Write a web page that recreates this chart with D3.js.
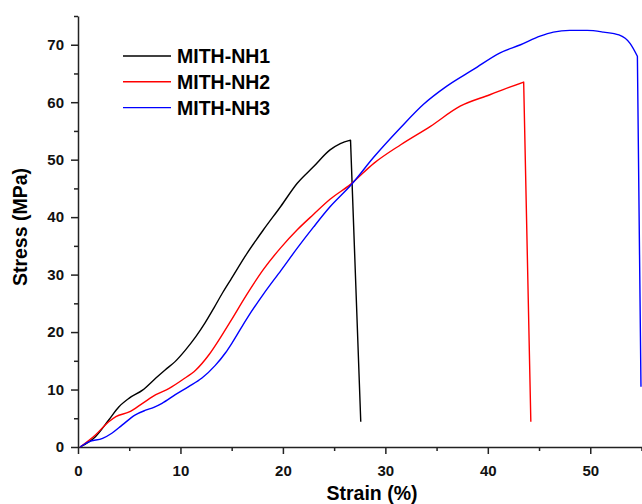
<!DOCTYPE html>
<html>
<head>
<meta charset="utf-8">
<script src="https://cdn.jsdelivr.net/npm/d3@7"></script>
<style>
  body { margin: 0; background: #fff; }
  svg { display: block; font-family: "Liberation Sans", Arial, sans-serif; }
  .axis text { font-size: 15px; font-weight: bold; fill: #111; }
  .axis path, .axis line { stroke: #222; stroke-width: 1.5; }
</style>
</head>
<body>
<div class="chart"></div>
<script>
// DATA ------------------------------
let seriesNames = ["MITH-NH1", "MITH-NH2", "MITH-NH3"];
let seriesColors = ["#000000", "#ff0000", "#0000ff"];

let nh1Strain = [0.2, 1.7, 3.0, 4.0, 5.0, 6.3, 7.6, 8.5, 9.5, 10.5, 11.5, 12.4, 13.3, 14.1, 14.9, 16.5, 18.1, 19.8, 21.4, 23.0, 24.6, 25.6, 26.6, 27.6];
let nh1Stress = [0, 1.8, 4.7, 7.0, 8.5, 9.9, 12.0, 13.4, 14.9, 16.9, 19.2, 21.6, 24.3, 26.8, 29.1, 33.7, 37.8, 41.9, 45.9, 48.8, 51.7, 52.8, 53.4, 4.4];

let nh2Strain = [0.2, 1.7, 3.0, 3.7, 5.0, 6.3, 7.6, 8.9, 10.2, 11.5, 12.8, 14.1, 14.9, 16.5, 18.1, 19.8, 21.4, 23.0, 24.6, 26.6, 28.9, 31.5, 34.4, 37.3, 40.2, 41.5, 43.5, 44.2];
let nh2Stress = [0, 2.1, 4.4, 5.3, 6.1, 7.6, 9.1, 10.2, 11.7, 13.4, 16.1, 19.6, 21.9, 26.6, 30.9, 34.7, 37.8, 40.5, 43.1, 45.7, 49.4, 52.6, 55.8, 59.3, 61.3, 62.2, 63.5, 4.4];

let nh3Strain = [0.2, 1.05, 2.4, 3.3, 4.3, 5.6, 6.6, 7.4, 8.2, 9.5, 10.8, 12.1, 13.4, 14.4, 15.0, 16.5, 18.1, 19.8, 21.4, 23.0, 24.6, 26.6, 28.9, 31.5, 33.7, 36.0, 38.6, 41.2, 43.2, 45.1, 46.4, 48.0, 49.7, 51.3, 52.8, 53.9, 54.6, 54.95];
let nh3Stress = [0, 0.9, 1.5, 2.4, 3.8, 5.6, 6.4, 6.9, 7.6, 9.1, 10.5, 12.0, 14.2, 16.4, 18.0, 22.4, 26.6, 30.7, 34.6, 38.3, 41.8, 45.5, 50.5, 55.6, 59.6, 62.8, 65.7, 68.6, 70.0, 71.5, 72.2, 72.5, 72.5, 72.2, 71.7, 70.2, 68.0, 10.5];

let xMajor = [0, 10, 20, 30, 40, 50];
let xMinor = [5, 15, 25, 35, 45, 55];
let yMajor = [0, 10, 20, 30, 40, 50, 60, 70];
let yMinor = [5, 15, 25, 35, 45, 55, 65, 75];

// CHART INIT ------------------------------
let W = 642, H = 504;
let x0 = 78, xEnd = 642, yBase = 447, yTop = 16;

let svg = d3.select(".chart")
  .append("svg")
  .attr("width", W)
  .attr("height", H);

let x = d3.scaleLinear().domain([0, 55.05]).range([x0, xEnd]);
let y = d3.scaleLinear().domain([0, 75]).range([yBase, yTop]);

// axes (minor ticks drawn first, no labels)
svg.append("g")
  .attr("class", "axis")
  .attr("transform", "translate(0," + yBase + ")")
  .call(d3.axisBottom(x).tickValues(xMinor).tickSize(4).tickFormat(""))
  .call(g => g.select(".domain").remove());

svg.append("g")
  .attr("class", "axis")
  .attr("transform", "translate(0," + yBase + ")")
  .call(d3.axisBottom(x).tickValues(xMajor).tickSize(7).tickSizeOuter(0).tickPadding(11).tickFormat(d3.format("d")));

svg.append("g")
  .attr("class", "axis")
  .attr("transform", "translate(" + x0 + ",0)")
  .call(d3.axisLeft(y).tickValues(yMinor).tickSize(4).tickFormat(""))
  .call(g => g.select(".domain").remove());

svg.append("g")
  .attr("class", "axis")
  .attr("transform", "translate(" + x0 + ",0)")
  .call(d3.axisLeft(y).tickValues(yMajor).tickSize(7).tickSizeOuter(0).tickPadding(7).tickFormat(d3.format("d")));

// axis titles
svg.append("text")
  .attr("x", 372)
  .attr("y", 500)
  .attr("text-anchor", "middle")
  .style("font-size", "19.5px")
  .style("font-weight", "bold")
  .text("Strain (%)");

svg.append("text")
  .attr("transform", "translate(27,227) rotate(-90)")
  .attr("text-anchor", "middle")
  .style("font-size", "19.5px")
  .style("font-weight", "bold")
  .text("Stress (MPa)");

// curves: smooth rise, straight drop at break
let series = [
  nh1Strain.map((s, i) => [s, nh1Stress[i]]),
  nh2Strain.map((s, i) => [s, nh2Stress[i]]),
  nh3Strain.map((s, i) => [s, nh3Stress[i]])
];

let smooth = d3.line()
  .x(d => x(d[0]))
  .y(d => y(d[1]))
  .curve(d3.curveMonotoneX);

function curvePath(pts) {
  let last = pts[pts.length - 1];
  return smooth(pts.slice(0, -1)) + "L" + x(last[0]) + "," + y(last[1]);
}

svg.selectAll(".curve")
  .data(series)
  .enter()
  .append("path")
  .attr("class", "curve")
  .attr("fill", "none")
  .attr("stroke", (d, i) => seriesColors[i])
  .attr("stroke-width", 1.4)
  .attr("stroke-linejoin", "round")
  .attr("d", curvePath);

// legend
let legend = svg.selectAll(".legend")
  .data(seriesNames)
  .enter()
  .append("g")
  .attr("class", "legend")
  .attr("transform", (d, i) => "translate(123," + (56 + i * 25.8) + ")");

legend.append("line")
  .attr("x1", 0).attr("x2", 48)
  .attr("stroke", (d, i) => seriesColors[i])
  .attr("stroke-width", 1.4);

legend.append("text")
  .attr("x", 54)
  .attr("dy", "0.36em")
  .style("font-size", "19.5px")
  .style("font-weight", "bold")
  .text(d => d);
</script>
</body>
</html>
